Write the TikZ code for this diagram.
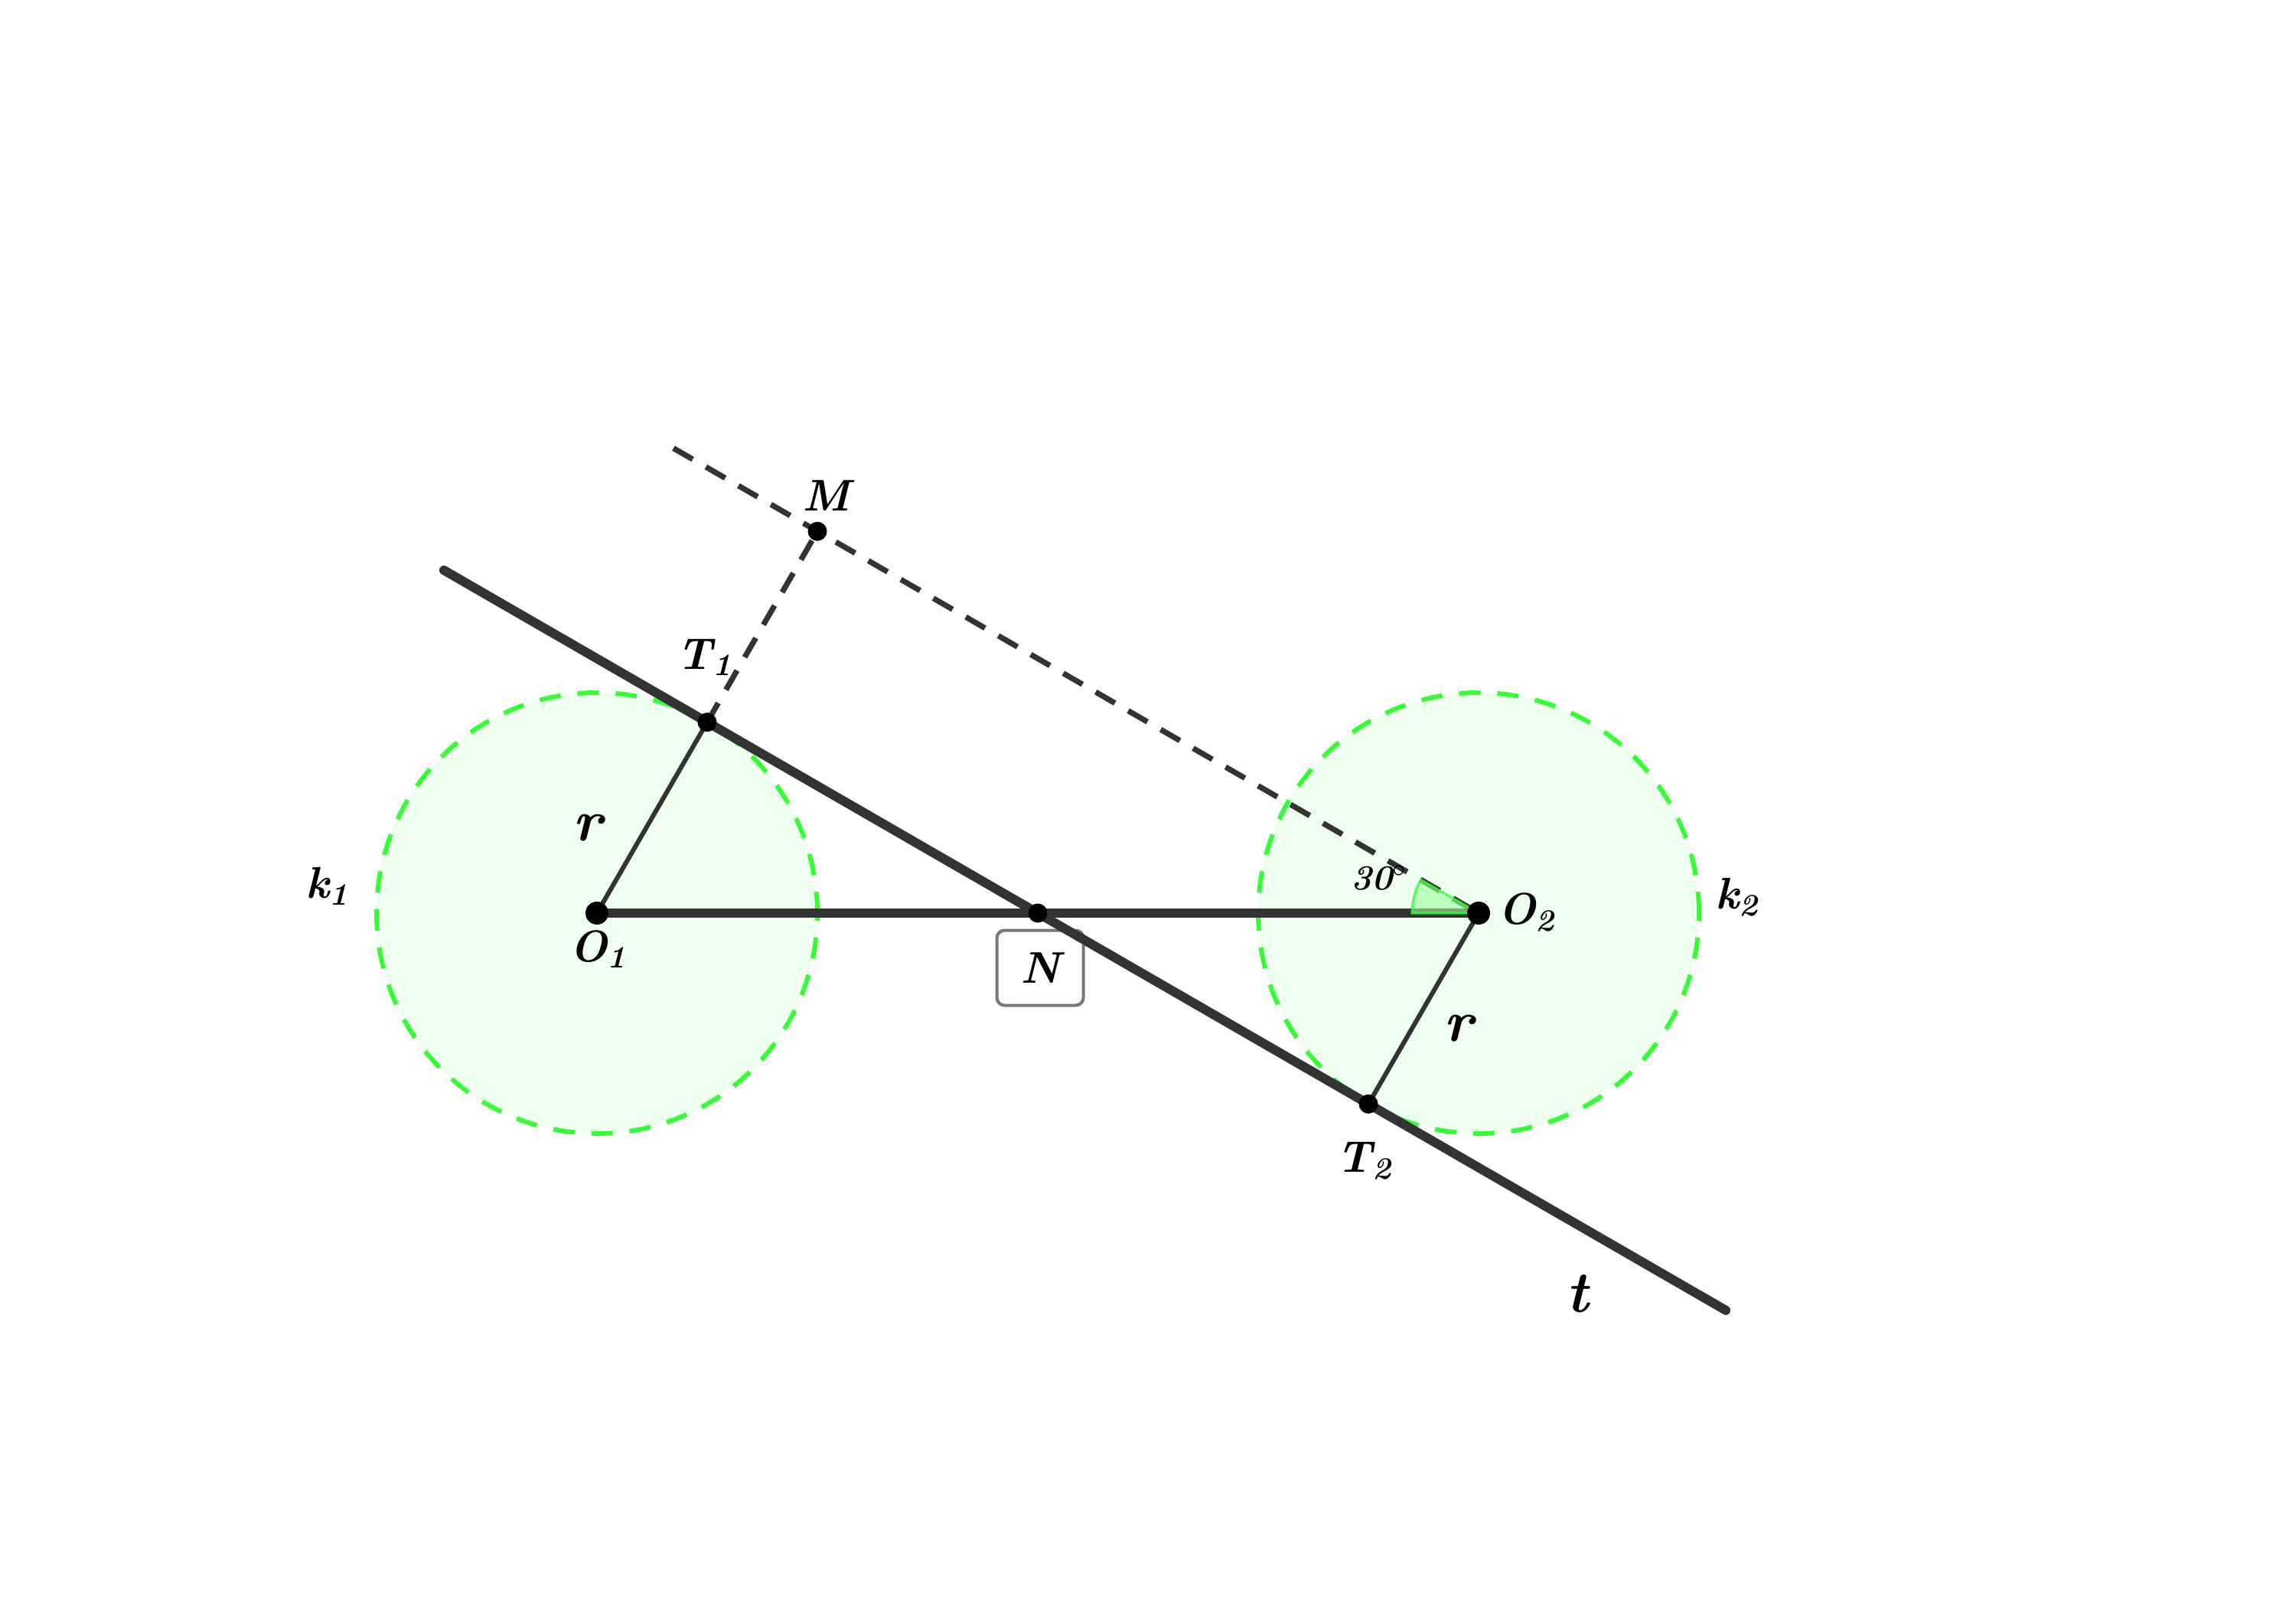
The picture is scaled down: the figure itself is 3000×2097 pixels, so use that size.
\documentclass[tikz,border=0pt]{standalone}
\usepackage{tikz}
\definecolor{lgreen}{RGB}{51,255,51}
\definecolor{sgreen}{RGB}{153,255,153}
\definecolor{dgray}{RGB}{51,51,51}
\definecolor{boxgray}{RGB}{119,119,119}
\begin{document}
\begin{tikzpicture}[x=0.25pt,y=0.25pt,
  lbl/.style={inner sep=0pt, font=\fontsize{14.5}{16}\selectfont\bfseries\itshape},
  lblm/.style={inner sep=0pt, font=\fontsize{14.5}{16}\selectfont\bfseries\itshape},
  big/.style={inner sep=0pt, font=\fontsize{19}{22}\selectfont\bfseries\itshape},
  small/.style={inner sep=0pt, font=\fontsize{11.5}{13}\selectfont\bfseries\itshape},
  dot/.style={circle, fill=black, inner sep=0pt, minimum size=6.25pt},
  bigdot/.style={circle, fill=black, inner sep=0pt, minimum size=7.5pt},
  circ/.style={draw=lgreen, line width=1.5pt, dash pattern=on 7pt off 5.5pt, fill=lgreen, fill opacity=0.08, draw opacity=1},
  heavy/.style={draw=dgray, line width=3pt, line cap=round},
  radius line/.style={draw=dgray, line width=1.5pt},
  dashline/.style={draw=dgray, line width=1.8pt, dash pattern=on 7.25pt off 5pt}
]
\useasboundingbox (0,0) rectangle (3000,-2097);
\fill[white] (0,0) rectangle (3000,-2097);
% points
\coordinate (O1) at (780,-1193);
\coordinate (O2) at (1932,-1193);
\coordinate (N) at (1356,-1193);
\coordinate (T1) at (924,-943.6);
\coordinate (T2) at (1788,-1442.4);
\coordinate (M) at (1068,-694.2);
\coordinate (tA) at (580,-745);
\coordinate (tB) at (2255,-1712);
\coordinate (P) at (880,-585.6);
% circles
\path[circ] (O1) circle[radius=288];
\path[circ] (O2) circle[radius=288];
% N box
\node[draw=boxgray, line width=1pt, rounded corners=2.5pt, fill=white, minimum width=28.25pt, minimum height=24.5pt, lbl] (Nbox) at (1359,-1264.5) {N};
% dashed lines
\draw[dashline] (P) -- (O2);
\draw[dashline] (T1) -- (M);
% main lines
\draw[heavy] (tA) -- (tB);
\draw[heavy, line cap=butt] (O1) -- (O2);
\draw[radius line] (O1) -- (T1);
\draw[radius line] (O2) -- (T2);
% angle
\filldraw[fill=sgreen, fill opacity=0.6, draw=lgreen, draw opacity=0.8, line width=0.8pt] (O2) -- ++(180:87) arc[start angle=180, end angle=150, radius=87] -- cycle;
% dots
\node[bigdot] (o1) at (O1) {};
\node[bigdot] (o2) at (O2) {};
\node[dot] (n) at (N) {};
\node[dot] (t1) at (T1) {};
\node[dot] (t2) at (T2) {};
\node[dot] (m) at (M) {};
% labels
\node[lbl] (k1) at (428,-1158) {k\textsubscript{1}};
\node[big] (r1) at (768,-1082) {r};
\node[lbl] (lT1) at (921,-859) {T\textsubscript{1}};
\node[lblm] (lM) at (1080,-648) {M};
\node[lbl] (lO1) at (782,-1240) {O\textsubscript{1}};
\node[small] (ang) at (1802,-1147) {30$^{\circ}$};
\node[lbl] (lO2) at (1995,-1192) {O\textsubscript{2}};
\node[lbl] (k2) at (2270,-1172) {k\textsubscript{2}};
\node[big] (r2) at (1906,-1344) {r};
\node[lbl] (lT2) at (1783,-1517) {T\textsubscript{2}};
\node[big] (lt) at (2061,-1690) {t};
\end{tikzpicture}
\end{document}
